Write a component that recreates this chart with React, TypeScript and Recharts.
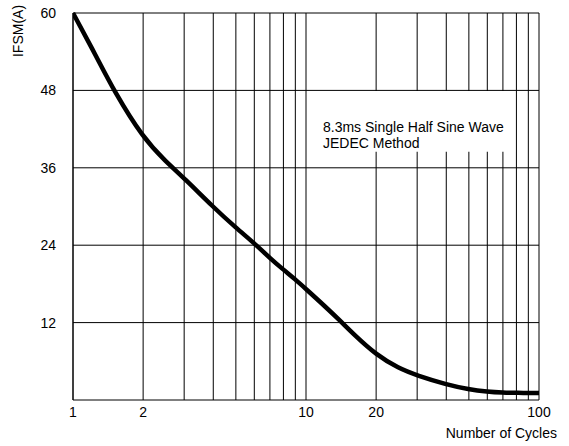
import React from "react";
import { LineChart, Line, XAxis, YAxis, CartesianGrid, ReferenceArea, Label } from "recharts";

// surge current vs number of cycles
const cycles = [1, 1.25, 1.5, 2, 2.5, 3, 4, 5, 6, 7, 8, 9, 10, 12, 14, 16, 20, 25, 30, 40, 50, 60, 70, 80, 100];
const ifsm = [60, 53.5, 47.9, 40.6, 37.0, 34.4, 29.9, 26.7, 24.3, 22.0, 20.2, 18.7, 17.2, 14.6, 12.3, 10.2, 7.0, 4.9, 3.8, 2.4, 1.65, 1.3, 1.15, 1.1, 1.1];

const xTicks = [1, 2, 10, 20, 100];
const yTicks = [12, 24, 36, 48, 60];
const gridCycles = [1, 2, 3, 4, 5, 6, 7, 8, 9, 10, 20, 30, 40, 50, 60, 70, 80, 90, 100];
const noteLines = ["8.3ms Single Half Sine Wave", "JEDEC Method"];

const data = cycles.map((c, i) => ({ cycles: c, ifsm: ifsm[i] }));

const font = '"Liberation Sans", Arial, sans-serif';

const applyScale = (s: any, v: number) => {
  if (typeof s === "function") return s(v);
  if (s && typeof s.map === "function") return s.map(v);
  return 0;
};

const NoteLabel = (props: any) => {
  const vb = props.viewBox || {};
  return (
    <text x={vb.x + 14} y={vb.y + 41} fontSize={14} fontFamily={font} fill="#000">
      {noteLines.map((t, i) => (
        <tspan key={t} x={vb.x + 14} dy={i === 0 ? 0 : 16}>
          {t}
        </tspan>
      ))}
    </text>
  );
};

const YTitle = (props: any) => {
  const vb = props.viewBox || {};
  const x = vb.x + 18;
  const y = vb.y + 18;
  return (
    <text
      x={x}
      y={y}
      transform={`rotate(-90 ${x} ${y})`}
      textAnchor="middle"
      dominantBaseline="central"
      fontSize={14}
      fontFamily={font}
      fill="#000"
    >
      IFSM(A)
    </text>
  );
};

const XTitle = (props: any) => {
  const vb = props.viewBox || {};
  return (
    <text
      x={vb.x + vb.width + 18}
      y={vb.y + 38}
      textAnchor="end"
      fontSize={14}
      fontFamily={font}
      fill="#000"
    >
      Number of Cycles
    </text>
  );
};

export default function App() {
  return (
    <div style={{ position: "absolute", left: 0, top: 0, background: "#fff" }}>
      <LineChart
        width={569}
        height={446}
        data={data}
        margin={{ top: 13, right: 30, bottom: 0, left: 0 }}
      >
        <CartesianGrid
          stroke="#000"
          strokeWidth={1}
          verticalCoordinatesGenerator={({ xAxis }: any) =>
            gridCycles.map((c) => applyScale(xAxis?.scale, c))
          }
          horizontalCoordinatesGenerator={({ yAxis }: any) =>
            yTicks.map((v) => applyScale(yAxis?.scale, v))
          }
        />
        <XAxis
          dataKey="cycles"
          type="number"
          scale="log"
          domain={[1, 100]}
          ticks={xTicks}
          allowDataOverflow
          height={46}
          tickLine={false}
          tickMargin={1}
          interval={0}
          axisLine={{ stroke: "#000" }}
          tick={{ fontSize: 14, fill: "#000", fontFamily: font }}
        >
          <Label content={<XTitle />} />
        </XAxis>
        <YAxis
          type="number"
          domain={[0, 60]}
          ticks={yTicks}
          width={73}
          tickLine={false}
          tickMargin={11}
          interval={0}
          axisLine={{ stroke: "#000" }}
          tick={{ fontSize: 14, fill: "#000", fontFamily: font }}
        >
          <Label content={<YTitle />} />
        </YAxis>
        <ReferenceArea
          x1={10.3}
          x2={79}
          y1={38.5}
          y2={47.9}
          fill="#fff"
          fillOpacity={1}
          stroke="none"
        >
          <Label content={<NoteLabel />} />
        </ReferenceArea>
        <Line
          dataKey="ifsm"
          type="basis"
          stroke="#000"
          strokeWidth={4.5}
          dot={false}
          isAnimationActive={false}
        />
      </LineChart>
    </div>
  );
}
